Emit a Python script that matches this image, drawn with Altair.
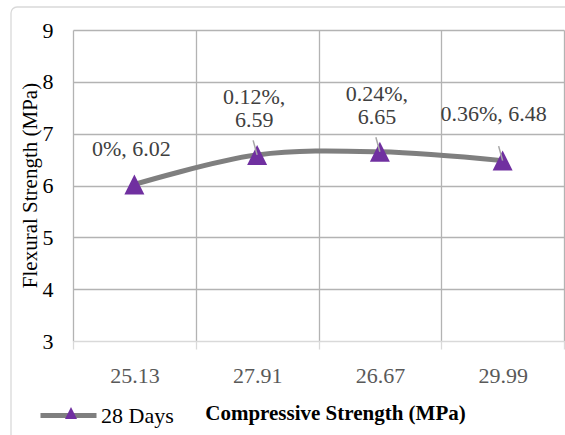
import altair as alt
import pandas as pd

categories = ["25.13", "27.91", "26.67", "29.99"]
values = [6.02, 6.59, 6.65, 6.48]
labels = ["0%, 6.02", "0.12%,\n6.59", "0.24%,\n6.65", "0.36%, 6.48"]
series = ["28 Days"] * 4
y_ticks = [3, 4, 5, 6, 7, 8, 9]

df = pd.DataFrame({"cs": categories, "fs": values, "label": labels,
                   "series": series, "idx": list(range(len(categories)))})

FONT = "Liberation Serif"
PURPLE = "#7030a0"
GRAY = "#7f7f7f"
TRI = "M-1,1L1,1L0,-1Z"

x = alt.X("cs:N", sort=categories,
          scale=alt.Scale(paddingInner=0, paddingOuter=0),
          axis=alt.Axis(title="Compressive Strength (MPa)", labelAngle=0,
                        tickBand="extent", grid=True, gridColor="#b3b3b3",
                        gridWidth=1.3, domain=False, ticks=True, tickSize=8,
                        tickColor="#d9d9d9", tickWidth=1.3,
                        labelPadding=16, labelFont=FONT, labelFontSize=22,
                        labelColor="#595959",
                        titleFont=FONT, titleFontSize=21, titleFontWeight="bold",
                        titleColor="#000000", titleX=262, titleY=72,
                        titleAlign="center", titleBaseline="middle"))
y = alt.Y("fs:Q", scale=alt.Scale(domain=[3, 9], nice=False),
          axis=alt.Axis(title="Flexural Strength (MPa)", values=y_ticks,
                        grid=True,
                        gridColor={"condition": {"test": "datum.value <= 3", "value": "#d9d9d9"},
                                   "value": "#b3b3b3"},
                        gridWidth=1.3, domain=False, ticks=False,
                        labelPadding=20, labelFont=FONT, labelFontSize=22,
                        labelColor="#000000",
                        titleFont=FONT, titleFontSize=21, titleFontWeight="normal",
                        titleColor="#000000", titleX=-43, titleY=155,
                        titleAngle=-90, titleAlign="center", titleBaseline="middle"))

frame = alt.Chart(pd.DataFrame({"a": [0]})).mark_rect(
    fill="transparent", stroke="#d9d9d9", strokeWidth=1.3, cornerRadius=6, clip=False
).encode(x=alt.value(-62), x2=alt.value(700), y=alt.value(-23), y2=alt.value(600))

line = alt.Chart(df).mark_line(interpolate="catmull-rom", strokeWidth=5).encode(
    x=x, y=y,
    color=alt.Color("series:N", scale=alt.Scale(domain=["28 Days"], range=[GRAY]),
                    legend=alt.Legend(title=None, orient="none", legendX=-35, legendY=355,
                                      symbolType="stroke", symbolStrokeWidth=5,
                                      symbolSize=3136, labelOffset=2, padding=0,
                                      labelFont=FONT, labelFontSize=22,
                                      labelColor="#000000", zindex=0))
)

points = alt.Chart(df).mark_point(filled=True, size=400, color=PURPLE, opacity=1).encode(
    x=x, y=y,
    shape=alt.Shape("series:N", scale=alt.Scale(domain=["28 Days"], range=[TRI]),
                    legend=alt.Legend(title=None, orient="none", legendX=-13, legendY=372,
                                      symbolSize=144, symbolFillColor=PURPLE,
                                      symbolStrokeWidth=0, padding=0,
                                      labelExpr="''", labelFontSize=22, zindex=1))
)

leaders = alt.Chart(df).transform_filter("datum.idx > 0").transform_calculate(
    top="datum.fs + 0.28"
).mark_rule(color="#a6a6a6", strokeWidth=1.5, xOffset=-4, x2Offset=0).encode(
    x=alt.X("cs:N", sort=categories), x2=alt.X2("cs:N"), y="top:Q", y2="fs:Q"
)

text_one = alt.Chart(df).transform_filter("datum.idx == 0").mark_text(
    font=FONT, fontSize=22, color="#404040", baseline="bottom", align="center",
    dy=-23, dx=-3
).encode(x=alt.X("cs:N", sort=categories), y="fs:Q", text="label:N")

text_two = alt.Chart(df).transform_filter("datum.idx == 1 || datum.idx == 2").mark_text(
    font=FONT, fontSize=22, color="#404040", baseline="bottom", align="center",
    lineBreak="\n", lineHeight=23, dy=-46, dx=-3
).encode(x=alt.X("cs:N", sort=categories), y="fs:Q", text="label:N")

text_last = alt.Chart(df).transform_filter("datum.idx == 3").mark_text(
    font=FONT, fontSize=22, color="#404040", baseline="bottom", align="center",
    dy=-35, dx=-9
).encode(x=alt.X("cs:N", sort=categories), y="fs:Q", text="label:N")

chart = alt.layer(frame, line, points, leaders, text_one, text_two, text_last).resolve_legend(
    color="independent", shape="independent"
).properties(
    width=491, height=311,
    autosize=alt.AutoSizeParams(type="none"),
    padding={"left": 73, "top": 30, "right": 1, "bottom": 94},
    background="white"
).configure_view(stroke=None)

chart.save("out.html", embed_options={"renderer": "svg", "actions": False})
